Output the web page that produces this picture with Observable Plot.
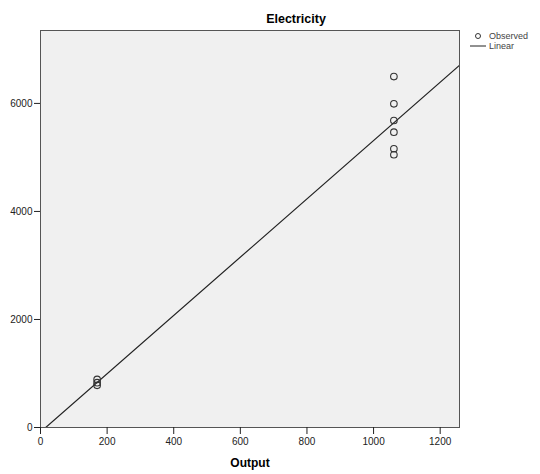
<!DOCTYPE html>
<html><head><meta charset="utf-8">
<script src="https://cdn.jsdelivr.net/npm/d3@7"></script>
<script src="https://cdn.jsdelivr.net/npm/@observablehq/plot@0.6"></script>
<style>body{margin:0;background:#fff;font-family:"Liberation Sans",Arial,sans-serif}</style>
</head><body><div id="chart"></div>
<script>
const output = [170, 170, 170, 1061, 1061, 1061, 1061, 1061, 1061];
const electricity = [890, 830, 780, 6497, 5993, 5684, 5468, 5161, 5050];
const xTicks = [0, 200, 400, 600, 800, 1000, 1200];
const yTicks = [0, 2000, 4000, 6000];
const xDomain = [0, 1258];
const yDomain = [0, 7350];
const title = "Electricity";
const xLabel = "Output";
const legendLabels = ["Observed", "Linear"];

const data = output.map((x, i) => ({x, y: electricity[i]}));
const mx = d3.mean(output), my = d3.mean(electricity);
const b = d3.sum(data, d => (d.x - mx) * (d.y - my)) / d3.sum(data, d => (d.x - mx) ** 2);
const a = my - b * mx;
const fit = xDomain.map(x => ({x, y: a + b * x}));

const chart = Plot.plot({
  width: 540, height: 474,
  marginLeft: 40, marginRight: 81, marginTop: 30, marginBottom: 47,
  style: {fontFamily: "'Liberation Sans', Arial, sans-serif", fontSize: "10px", color: "#222", background: "#fff"},
  x: {domain: xDomain, ticks: xTicks, tickSize: 7, tickPadding: 3, label: null, tickFormat: d => String(d)},
  y: {domain: yDomain, ticks: yTicks, tickSize: 6, tickPadding: 2, label: null, tickFormat: d => String(d)},
  marks: [
    Plot.frame({fill: "#f0f0f0", stroke: "#555", strokeWidth: 1}),
    Plot.line(fit, {x: "x", y: "y", stroke: "#222", strokeWidth: 1.2, clip: true}),
    Plot.dot(data, {x: "x", y: "y", r: 3.3, stroke: "#333", strokeWidth: 1.1, fill: "none"}),
    Plot.axisX({ticks: xTicks, tickSize: 7, tickPadding: 3, tickFormat: d => String(d), label: null}),
    Plot.axisY({ticks: yTicks, tickSize: 6, tickPadding: 2, tickFormat: d => String(d), label: null}),
    Plot.text([title], {frameAnchor: "top", dx: 46, dy: -16, fontWeight: "bold", fontSize: 12.5, fill: "#000"}),
    Plot.text([xLabel], {frameAnchor: "bottom", dy: 39, fontWeight: "bold", fontSize: 12, fill: "#000"})
  ]
});
const svg = d3.select(chart);
svg.style("overflow", "visible");
const lg = svg.append("g").attr("font-size", 9).attr("fill", "#444").attr("text-anchor", "start")
  .attr("font-family", "'Liberation Sans', Arial, sans-serif");
lg.append("circle").attr("cx", 478).attr("cy", 36).attr("r", 2.5).attr("fill", "none").attr("stroke", "#333");
lg.append("text").attr("x", 489).attr("y", 36).attr("dy", "0.35em").text(legendLabels[0]);
lg.append("line").attr("x1", 470).attr("x2", 486).attr("y1", 46).attr("y2", 46).attr("stroke", "#222");
lg.append("text").attr("x", 489).attr("y", 46).attr("dy", "0.35em").text(legendLabels[1]);
document.getElementById("chart").append(chart);
</script>
</body></html>
